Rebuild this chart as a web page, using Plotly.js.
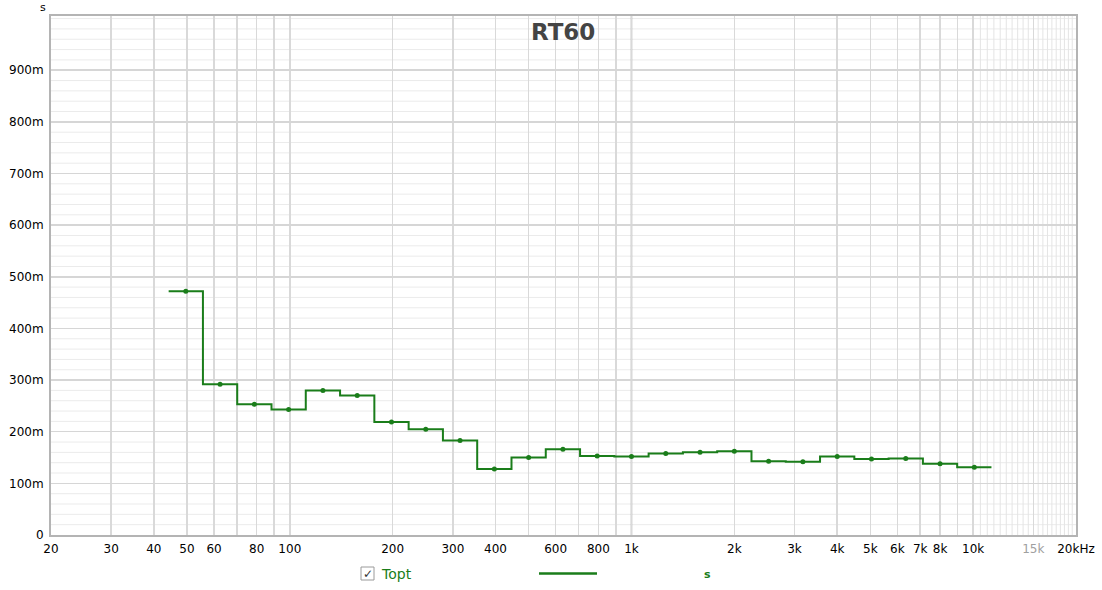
<!DOCTYPE html>
<html>
<head>
<meta charset="utf-8">
<script src="https://cdn.plot.ly/plotly-3.0.1.min.js"></script>
<style>html,body{margin:0;padding:0;background:#fff;}#chart{width:1102px;height:590px;}</style>
</head>
<body>
<div id="chart"></div>
<script>
// 1/3-octave band centre frequencies (Hz)
const bandCentres = [50, 63, 80, 100, 125, 160, 200, 250, 315, 400, 500, 630, 800, 1000, 1250, 1600, 2000, 2500, 3150, 4000, 5000, 6300, 8000, 10000];
// RT60 (Topt) in seconds
const rt60 = [0.472, 0.292, 0.253, 0.243, 0.280, 0.270, 0.219, 0.205, 0.183, 0.128, 0.150, 0.166, 0.153, 0.152, 0.158, 0.160, 0.162, 0.143, 0.142, 0.152, 0.147, 0.148, 0.138, 0.131];

// Axis ticks
const xTickVals = [20,30,40,50,60,70,80,90,100,200,300,400,500,600,700,800,900,1000,2000,3000,4000,5000,6000,7000,8000,9000,10000,15000,20000];
const xTickText = ['20','30','40','50','60','','80','','100','200','300','400','','600','','800','','1k','2k','3k','4k','5k','6k','7k','8k','','10k','<span style="color:#a0a0a0">15k</span>','20kHz'];
const xMinorVals = [10500,11000,11500,12000,12500,13000,13500,14000,14500,15500,16000,16500,17000,17500,18000,18500,19000,19500];
const xDecadeLines = [100, 1000, 10000];
const yTickVals = [0,0.1,0.2,0.3,0.4,0.5,0.6,0.7,0.8,0.9];
const yTickText = ['0','100m','200m','300m','400m','500m','600m','700m','800m','900m'];
const yMinorVals = [];
for (let i = 0; i <= 50; i++) { if (i % 5 !== 0) yMinorVals.push(i / 50); }
yMinorVals.push(1.0);

// exact band centres and step edges
const exact = bandCentres.map(f => 1000 * Math.pow(2, Math.round(3 * Math.log2(f / 1000)) / 3));
const stepX = exact.map(f => f * Math.pow(2, -1/6));
stepX.push(exact[exact.length - 1] * Math.pow(2, 1/6));
const stepY = rt60.slice();
stepY.push(rt60[rt60.length - 1]);

const green = '#1a7d1a';

const traces = [
  {x: stepX, y: stepY, type: 'scatter', mode: 'lines', line: {shape: 'hv', color: green, width: 2}, hoverinfo: 'skip'},
  {x: exact, y: rt60, type: 'scatter', mode: 'markers', marker: {color: green, size: 5}}
];

const vline = (v, color, width) => ({type: 'line', xref: 'x', yref: 'paper', x0: v, x1: v, y0: 0, y1: 1, line: {color: color, width: width}, layer: 'below'});
const hline = (v, color, width) => ({type: 'line', xref: 'paper', yref: 'y', x0: 0, x1: 1, y0: v, y1: v, line: {color: color, width: width}, layer: 'below'});

const layout = {
  width: 1102, height: 590,
  margin: {l: 51, r: 26, t: 16, b: 55},
  paper_bgcolor: '#ffffff', plot_bgcolor: '#ffffff',
  showlegend: false,
  font: {family: 'DejaVu Sans, sans-serif', size: 12, color: '#000'},
  xaxis: {
    type: 'log', range: [Math.log10(20), Math.log10(20000)],
    tickmode: 'array', tickvals: xTickVals, ticktext: xTickText,
    showgrid: true, gridcolor: '#d9d9d9', gridwidth: 1.5,
    minor: {showgrid: false, ticks: ''},
    ticks: '', showline: true, mirror: true, linecolor: '#b4b4b4', linewidth: 2,
    zeroline: false, fixedrange: true, ticklabelstandoff: 2
  },
  yaxis: {
    range: [0, 1.005],
    tickmode: 'array', tickvals: yTickVals, ticktext: yTickText,
    showgrid: true, gridcolor: '#d6d6d6', gridwidth: 1.5,
    minor: {showgrid: false, ticks: ''},
    ticks: '', showline: true, mirror: true, linecolor: '#b4b4b4', linewidth: 2,
    zeroline: false, fixedrange: true, ticklabelstandoff: 3
  },
  shapes: [
    ...yMinorVals.map(v => hline(v, '#ebebeb', 1)),
    ...xMinorVals.map(v => vline(v, '#e4e4e4', 1)),
    ...xDecadeLines.map(v => vline(v, '#a8a8a8', 1.5)),
    {type: 'rect', xref: 'paper', yref: 'paper', x0: (361-51)/1025, x1: (374-51)/1025, y0: (535-580)/519, y1: (535-567)/519, line: {color: '#9a9a9a', width: 1}, fillcolor: '#ffffff'},
    {type: 'line', xref: 'paper', yref: 'paper', x0: (539-51)/1025, x1: (597-51)/1025, y0: (535-573.5)/519, y1: (535-573.5)/519, line: {color: green, width: 2.5}}
  ],
  annotations: [
    {text: '<b>RT60</b>', xref: 'paper', yref: 'paper', x: (563-51)/1025, y: (535-32)/519, xanchor: 'center', yanchor: 'middle', showarrow: false, font: {family: 'DejaVu Sans, sans-serif', size: 23, color: '#444444'}},
    {text: 's', xref: 'paper', yref: 'paper', x: (43-51)/1025, y: (535-7)/519, xanchor: 'center', yanchor: 'middle', showarrow: false, font: {size: 11, color: '#000'}},
    {text: '✓', xref: 'paper', yref: 'paper', x: (367.5-51)/1025, y: (535-573.5)/519, xanchor: 'center', yanchor: 'middle', showarrow: false, font: {size: 12, color: '#333'}},
    {text: 'Topt', xref: 'paper', yref: 'paper', x: (379-51)/1025, y: (535-574)/519, xanchor: 'left', yanchor: 'middle', showarrow: false, font: {size: 14, color: green}},
    {text: '<b>s</b>', xref: 'paper', yref: 'paper', x: (707-51)/1025, y: (535-574)/519, xanchor: 'center', yanchor: 'middle', showarrow: false, font: {size: 11, color: green}}
  ]
};

Plotly.newPlot('chart', traces, layout, {displayModeBar: false, staticPlot: true});
</script>
</body>
</html>
